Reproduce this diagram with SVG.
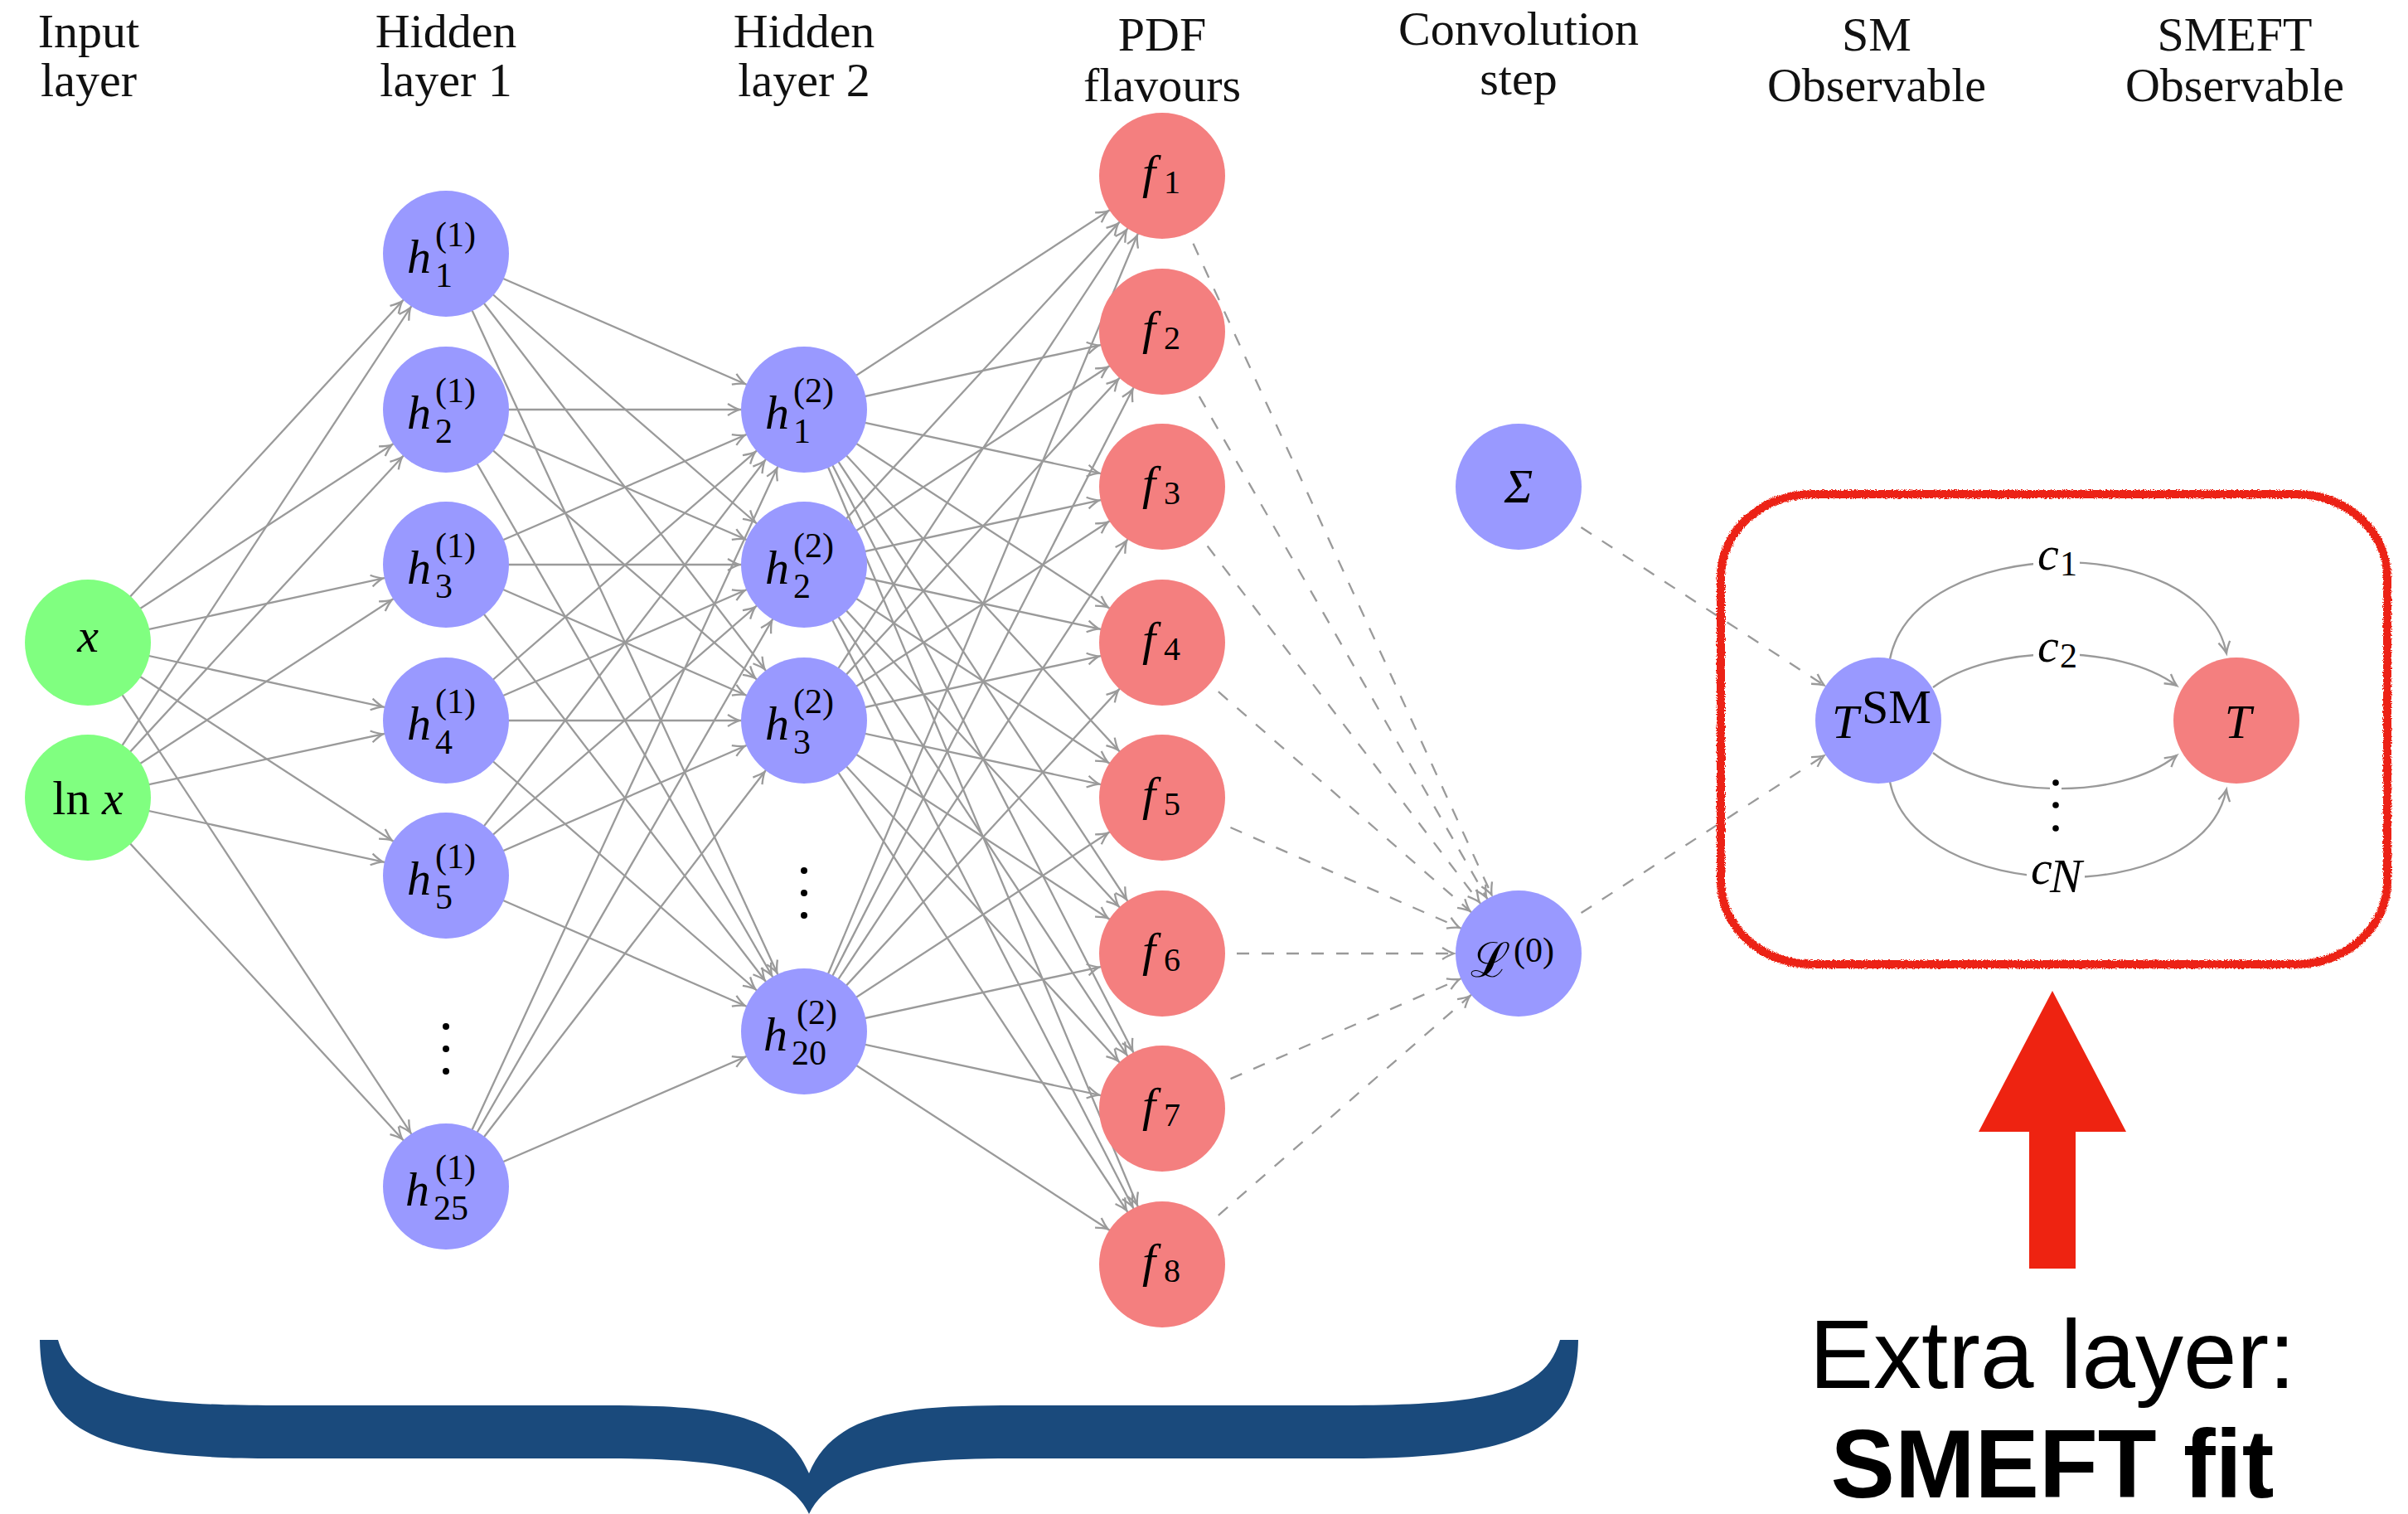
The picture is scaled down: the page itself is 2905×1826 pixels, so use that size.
<svg xmlns="http://www.w3.org/2000/svg" width="2905" height="1826" viewBox="0 0 2905 1826">
<style>
.e{stroke:#9a9a9a;stroke-width:2.3;fill:none;marker-end:url(#ah)}
.d{stroke:#9a9a9a;stroke-width:2.3;fill:none;stroke-dasharray:15 15;marker-end:url(#ah)}
.c{stroke:#9a9a9a;stroke-width:2.3;fill:none;marker-end:url(#ah0)}
.nb{fill:#9999ff}.ng{fill:#80ff80}.nr{fill:#f47f7f}
.hd{font-family:"Liberation Serif",serif;font-size:58px;text-anchor:middle;fill:#111}
.mi{font-family:"Liberation Serif","DejaVu Serif",serif;font-style:italic;font-size:58px;fill:#000}
.mr{font-family:"Liberation Serif","DejaVu Serif",serif;font-size:58px;fill:#000}
.ss{font-family:"Liberation Serif","DejaVu Serif",serif;font-size:42px;fill:#000}
.fs{font-family:"Liberation Serif","DejaVu Serif",serif;font-size:40px;fill:#000}
.dot{fill:#000}
</style>
<defs>
<marker id="ah" markerUnits="userSpaceOnUse" orient="auto" refX="78" refY="0" markerWidth="20" markerHeight="20" overflow="visible"><path d="M -14 -7 Q -6 -2 0 0 Q -6 2 -14 7" fill="none" stroke="#9a9a9a" stroke-width="2.3"/></marker>
<marker id="ah0" markerUnits="userSpaceOnUse" orient="auto" refX="0" refY="0" markerWidth="20" markerHeight="20" overflow="visible"><path d="M -14 -7 Q -6 -2 0 0 Q -6 2 -14 7" fill="none" stroke="#9a9a9a" stroke-width="2.3"/></marker>
<filter id="rough" x="-5%" y="-5%" width="110%" height="110%"><feTurbulence type="fractalNoise" baseFrequency="0.7" numOctaves="2" seed="3"/><feDisplacementMap in="SourceGraphic" scale="5" xChannelSelector="R" yChannelSelector="G"/></filter>
</defs>
<rect width="2905" height="1826" fill="#fff"/>
<g id="headers">
<text class="hd" x="107" y="57">Input</text><text class="hd" x="107" y="116">layer</text>
<text class="hd" x="538" y="57">Hidden</text><text class="hd" x="538" y="116">layer 1</text>
<text class="hd" x="970" y="57">Hidden</text><text class="hd" x="970" y="116">layer 2</text>
<text class="hd" x="1402" y="61">PDF</text><text class="hd" x="1402" y="122">flavours</text>
<text class="hd" x="1832" y="54">Convolution</text><text class="hd" x="1832" y="114">step</text>
<text class="hd" x="2264" y="61">SM</text><text class="hd" x="2264" y="122">Observable</text>
<text class="hd" x="2696" y="61">SMEFT</text><text class="hd" x="2696" y="122">Observable</text>
</g>
<g id="connectors">
<path class="e" d="M106 775L538 306"/><path class="e" d="M106 775L538 494"/><path class="e" d="M106 775L538 681"/><path class="e" d="M106 775L538 869"/><path class="e" d="M106 775L538 1056"/><path class="e" d="M106 775L538 1431"/>
<path class="e" d="M106 962L538 306"/><path class="e" d="M106 962L538 494"/><path class="e" d="M106 962L538 681"/><path class="e" d="M106 962L538 869"/><path class="e" d="M106 962L538 1056"/><path class="e" d="M106 962L538 1431"/>
<path class="e" d="M538 306L970 494"/><path class="e" d="M538 306L970 681"/><path class="e" d="M538 306L970 869"/><path class="e" d="M538 306L970 1244"/>
<path class="e" d="M538 494L970 494"/><path class="e" d="M538 494L970 681"/><path class="e" d="M538 494L970 869"/><path class="e" d="M538 494L970 1244"/>
<path class="e" d="M538 681L970 494"/><path class="e" d="M538 681L970 681"/><path class="e" d="M538 681L970 869"/><path class="e" d="M538 681L970 1244"/>
<path class="e" d="M538 869L970 494"/><path class="e" d="M538 869L970 681"/><path class="e" d="M538 869L970 869"/><path class="e" d="M538 869L970 1244"/>
<path class="e" d="M538 1056L970 494"/><path class="e" d="M538 1056L970 681"/><path class="e" d="M538 1056L970 869"/><path class="e" d="M538 1056L970 1244"/>
<path class="e" d="M538 1431L970 494"/><path class="e" d="M538 1431L970 681"/><path class="e" d="M538 1431L970 869"/><path class="e" d="M538 1431L970 1244"/>
<path class="e" d="M970 494L1402 212"/><path class="e" d="M970 494L1402 400"/><path class="e" d="M970 494L1402 587"/><path class="e" d="M970 494L1402 775"/><path class="e" d="M970 494L1402 962"/><path class="e" d="M970 494L1402 1150"/><path class="e" d="M970 494L1402 1337"/><path class="e" d="M970 494L1402 1525"/>
<path class="e" d="M970 681L1402 212"/><path class="e" d="M970 681L1402 400"/><path class="e" d="M970 681L1402 587"/><path class="e" d="M970 681L1402 775"/><path class="e" d="M970 681L1402 962"/><path class="e" d="M970 681L1402 1150"/><path class="e" d="M970 681L1402 1337"/><path class="e" d="M970 681L1402 1525"/>
<path class="e" d="M970 869L1402 212"/><path class="e" d="M970 869L1402 400"/><path class="e" d="M970 869L1402 587"/><path class="e" d="M970 869L1402 775"/><path class="e" d="M970 869L1402 962"/><path class="e" d="M970 869L1402 1150"/><path class="e" d="M970 869L1402 1337"/><path class="e" d="M970 869L1402 1525"/>
<path class="e" d="M970 1244L1402 212"/><path class="e" d="M970 1244L1402 400"/><path class="e" d="M970 1244L1402 587"/><path class="e" d="M970 1244L1402 775"/><path class="e" d="M970 1244L1402 962"/><path class="e" d="M970 1244L1402 1150"/><path class="e" d="M970 1244L1402 1337"/><path class="e" d="M970 1244L1402 1525"/>
<path class="d" d="M1402 212L1832 1150"/><path class="d" d="M1402 400L1832 1150"/><path class="d" d="M1402 587L1832 1150"/><path class="d" d="M1402 775L1832 1150"/><path class="d" d="M1402 962L1832 1150"/><path class="d" d="M1402 1150L1832 1150"/><path class="d" d="M1402 1337L1832 1150"/><path class="d" d="M1402 1525L1832 1150"/>
<path class="d" d="M1832 587L2266 869"/><path class="d" d="M1832 1150L2266 869"/>
<path class="c" d="M2280 795C2310 644 2656 637 2686 788"/>
<path class="c" d="M2332 829C2402 777 2556 775 2626 827"/>
<path class="c" d="M2332 908C2402 963 2556 967 2626 911"/>
<path class="c" d="M2280 943C2310 1091 2656 1099 2686 952"/>
</g>
<g id="edge-labels">
<rect x="2453" y="657" width="56" height="44" fill="#fff"/>
<text class="mi" x="2458" y="687" font-size="46">c</text><text class="ss" x="2485" y="694" font-size="32">1</text>
<rect x="2453" y="768" width="56" height="44" fill="#fff"/>
<text class="mi" x="2458" y="798" font-size="46">c</text><text class="ss" x="2485" y="805" font-size="32">2</text>
<rect x="2473" y="936" width="14" height="72" fill="#fff"/>
<circle class="dot" cx="2480" cy="944" r="3.8"/><circle class="dot" cx="2480" cy="971" r="3.8"/><circle class="dot" cx="2480" cy="999" r="3.8"/>
<rect x="2445" y="1038" width="70" height="46" fill="#fff"/>
<text class="mi" x="2450" y="1066" font-size="46">c</text><text class="mi" x="2473" y="1076" font-size="32">N</text>
</g>
<g id="node-x"><circle class="ng" cx="106" cy="775" r="76"/><text class="mi" x="106" y="786" text-anchor="middle">x</text></g>
<g id="node-lnx"><circle class="ng" cx="106" cy="962" r="76"/><text class="mr" x="106" y="982" text-anchor="middle">ln <tspan font-style="italic">x</tspan></text></g>
<g id="node-h1-1"><circle class="nb" cx="538" cy="306" r="76"/><text class="mi" x="491" y="329">h</text><text class="ss" x="525" y="346">1</text><text class="ss" x="525" y="297">(1)</text></g>
<g id="node-h1-2"><circle class="nb" cx="538" cy="494" r="76"/><text class="mi" x="491" y="517">h</text><text class="ss" x="525" y="534">2</text><text class="ss" x="525" y="485">(1)</text></g>
<g id="node-h1-3"><circle class="nb" cx="538" cy="681" r="76"/><text class="mi" x="491" y="704">h</text><text class="ss" x="525" y="721">3</text><text class="ss" x="525" y="672">(1)</text></g>
<g id="node-h1-4"><circle class="nb" cx="538" cy="869" r="76"/><text class="mi" x="491" y="892">h</text><text class="ss" x="525" y="909">4</text><text class="ss" x="525" y="860">(1)</text></g>
<g id="node-h1-5"><circle class="nb" cx="538" cy="1056" r="76"/><text class="mi" x="491" y="1079">h</text><text class="ss" x="525" y="1096">5</text><text class="ss" x="525" y="1047">(1)</text></g>
<g id="dots-h1"><circle class="dot" cx="538" cy="1238" r="4"/><circle class="dot" cx="538" cy="1265" r="4"/><circle class="dot" cx="538" cy="1292" r="4"/></g>
<g id="node-h1-25"><circle class="nb" cx="538" cy="1431" r="76"/><text class="mi" x="489" y="1454">h</text><text class="ss" x="523" y="1471">25</text><text class="ss" x="525" y="1422">(1)</text></g>
<g id="node-h2-1"><circle class="nb" cx="970" cy="494" r="76"/><text class="mi" x="923" y="517">h</text><text class="ss" x="957" y="534">1</text><text class="ss" x="957" y="485">(2)</text></g>
<g id="node-h2-2"><circle class="nb" cx="970" cy="681" r="76"/><text class="mi" x="923" y="704">h</text><text class="ss" x="957" y="721">2</text><text class="ss" x="957" y="672">(2)</text></g>
<g id="node-h2-3"><circle class="nb" cx="970" cy="869" r="76"/><text class="mi" x="923" y="892">h</text><text class="ss" x="957" y="909">3</text><text class="ss" x="957" y="860">(2)</text></g>
<g id="dots-h2"><circle class="dot" cx="970" cy="1050" r="4"/><circle class="dot" cx="970" cy="1077" r="4"/><circle class="dot" cx="970" cy="1104" r="4"/></g>
<g id="node-h2-20"><circle class="nb" cx="970" cy="1244" r="76"/><text class="mi" x="921" y="1267">h</text><text class="ss" x="955" y="1284">20</text><text class="ss" x="961" y="1235">(2)</text></g>
<g id="node-f1"><circle class="nr" cx="1402" cy="212" r="76"/><text class="mi" x="1378" y="227">f</text><text class="fs" x="1404" y="233">1</text></g>
<g id="node-f2"><circle class="nr" cx="1402" cy="400" r="76"/><text class="mi" x="1378" y="415">f</text><text class="fs" x="1404" y="421">2</text></g>
<g id="node-f3"><circle class="nr" cx="1402" cy="587" r="76"/><text class="mi" x="1378" y="602">f</text><text class="fs" x="1404" y="608">3</text></g>
<g id="node-f4"><circle class="nr" cx="1402" cy="775" r="76"/><text class="mi" x="1378" y="790">f</text><text class="fs" x="1404" y="796">4</text></g>
<g id="node-f5"><circle class="nr" cx="1402" cy="962" r="76"/><text class="mi" x="1378" y="977">f</text><text class="fs" x="1404" y="983">5</text></g>
<g id="node-f6"><circle class="nr" cx="1402" cy="1150" r="76"/><text class="mi" x="1378" y="1165">f</text><text class="fs" x="1404" y="1171">6</text></g>
<g id="node-f7"><circle class="nr" cx="1402" cy="1337" r="76"/><text class="mi" x="1378" y="1352">f</text><text class="fs" x="1404" y="1358">7</text></g>
<g id="node-f8"><circle class="nr" cx="1402" cy="1525" r="76"/><text class="mi" x="1378" y="1540">f</text><text class="fs" x="1404" y="1546">8</text></g>
<g id="node-sigma"><circle class="nb" cx="1832" cy="587" r="76"/><text class="mi" x="1832" y="606" text-anchor="middle" font-size="56">Σ</text></g>
<g id="node-L0"><circle class="nb" cx="1832" cy="1150" r="76"/><text class="mr" x="1774" y="1178" font-size="46">ℒ</text><text class="ss" x="1826" y="1160" font-size="40">(0)</text></g>
<g id="node-TSM"><circle class="nb" cx="2266" cy="869" r="76"/><text class="mi" x="2210" y="890">T</text><text class="mr" x="2246" y="872" font-size="38">SM</text></g>
<g id="node-T"><circle class="nr" cx="2698" cy="869" r="76"/><text class="mi" x="2700" y="890" text-anchor="middle">T</text></g>
<g id="highlight">
<rect x="2076" y="596" width="804" height="567" rx="110" ry="100" fill="none" stroke="#ec2413" stroke-width="10" filter="url(#rough)"/>
<polygon points="2476,1195 2565,1365 2504,1365 2504,1530 2448,1530 2448,1365 2387,1365" fill="#ee2311"/>
<text x="2476" y="1674" text-anchor="middle" font-family="Liberation Sans, sans-serif" font-size="116" fill="#000">Extra layer:</text>
<text x="2476" y="1806" text-anchor="middle" font-family="Liberation Sans, sans-serif" font-size="116" font-weight="bold" fill="#000">SMEFT fit</text>
</g>
<g id="brace">
<path fill="#1a4a7c" d="M48 1616L70 1616C88 1678 150 1695 332 1695L727 1695C850 1695 945 1700 976 1777C1007 1700 1102 1695 1225 1695L1620 1695C1802 1695 1864 1678 1882 1616L1904 1616C1902 1720 1852 1759 1620 1759L1219 1759C1092 1759 1002 1770 976 1826C950 1770 860 1759 733 1759L332 1759C100 1759 50 1720 48 1616Z"/>
</g>
</svg>
